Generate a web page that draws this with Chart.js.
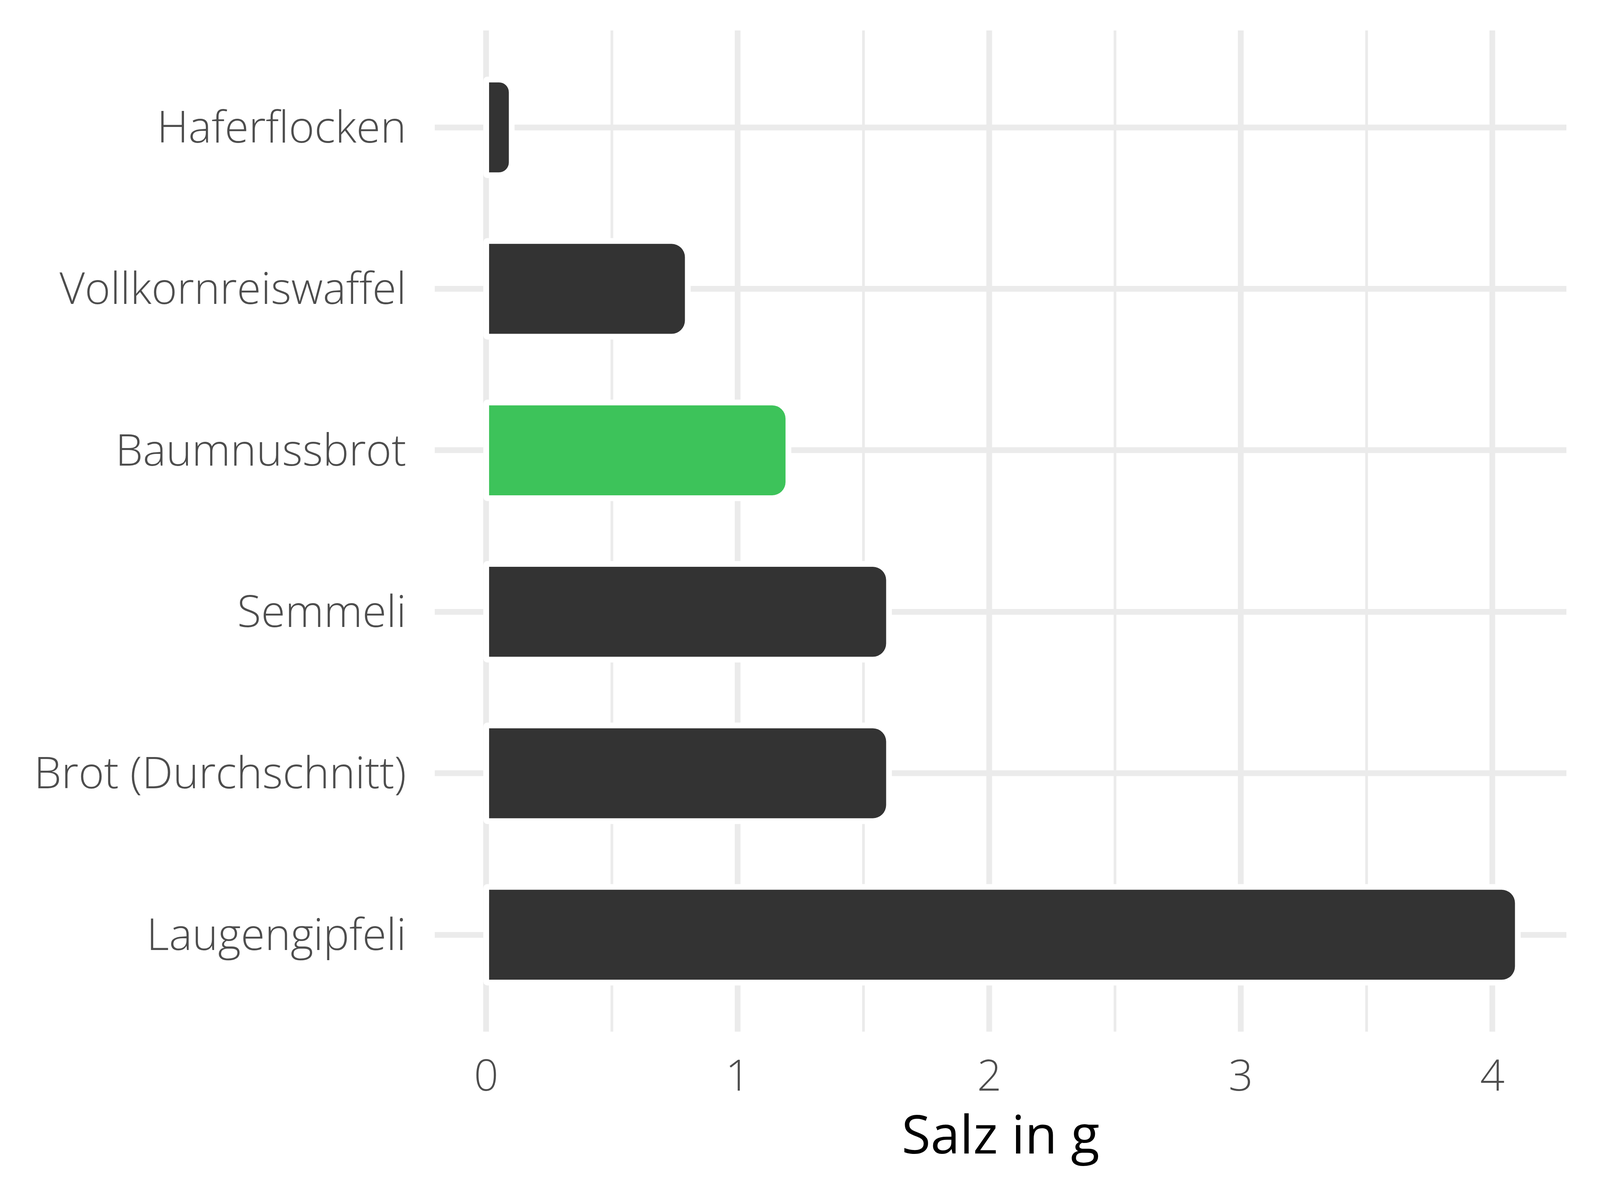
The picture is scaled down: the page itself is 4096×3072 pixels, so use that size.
<!DOCTYPE html>
<html>
<head>
<meta charset="utf-8">
<script src="https://cdn.jsdelivr.net/npm/chart.js@4.4.1/dist/chart.umd.min.js"></script>
<style>
  html, body { margin: 0; padding: 0; background: #ffffff; }
  canvas { display: block; }
</style>
</head>
<body>
<canvas id="myChart" width="4096" height="3072"></canvas>
<script>
var foods = ['Haferflocken', 'Vollkornreiswaffel', 'Baumnussbrot', 'Semmeli', 'Brot (Durchschnitt)', 'Laugengipfeli']
var salz = [0.09, 0.79, 1.19, 1.59, 1.59, 4.09]
var barColors = ['#333333', '#333333', '#3DC35A', '#333333', '#333333', '#333333']
var xTicks = [0, 0.5, 1, 1.5, 2, 2.5, 3, 3.5, 4]
var xTitle = 'Salz in g'

var points = foods.map(function (name, i) { return { x: salz[i], y: i } })

var gridColor = '#EBEBEB'
var majorWidth = 14.7
var minorWidth = 6.9

const config = {
  type: 'bar',
  data: {
    datasets: [{
      label: 'Salz',
      data: points,
      backgroundColor: barColors,
      borderWidth: 0,
      borderRadius: 34,
      borderSkipped: 'start',
      inflateAmount: 0,
      order: 0
    }, {
      // white halo behind each bar, like the reference
      label: 'halo',
      data: points,
      backgroundColor: '#ffffff',
      borderWidth: 0,
      borderRadius: { topLeft: 10, bottomLeft: 10, topRight: 40, bottomRight: 40 },
      borderSkipped: false,
      inflateAmount: 14.7,
      order: 1
    }]
  },
  options: {
    indexAxis: 'y',
    responsive: false,
    animation: false,
    grouped: false,
    categoryPercentage: 1,
    barPercentage: 0.557,
    layout: { padding: { top: 78, right: 86, left: 0, bottom: 0 } },
    plugins: { legend: { display: false }, tooltip: { enabled: false } },
    scales: {
      x: {
        type: 'linear',
        min: -0.2045,
        max: 4.2945,
        afterBuildTicks: function (scale) {
          scale.ticks = xTicks.map(function (v) { return { value: v } })
        },
        afterFit: function (scale) {
          scale.height = 431
          scale.paddingLeft = 0
          scale.paddingRight = 0
        },
        border: { display: false },
        grid: {
          color: gridColor,
          drawTicks: false,
          lineWidth: function (ctx) {
            return ctx.tick && ctx.tick.value % 1 === 0 ? majorWidth : minorWidth
          }
        },
        ticks: {
          autoSkip: false,
          maxRotation: 0,
          padding: 54,
          color: '#4D4D4D',
          font: { family: 'Open Sans', size: 110, weight: 300 },
          callback: function (v) { return v % 1 === 0 ? String(v) : '' }
        },
        title: {
          display: true,
          text: xTitle,
          color: '#000000',
          padding: { top: 0, bottom: 76 },
          font: { family: 'Open Sans', size: 135, weight: 400 }
        }
      },
      y: {
        type: 'linear',
        reverse: true,
        offset: false,
        min: -0.6,
        max: 5.6,
        afterBuildTicks: function (scale) {
          scale.ticks = foods.map(function (f, i) { return { value: i } })
        },
        afterFit: function (scale) {
          scale.width = 1113
          scale.paddingTop = 0
          scale.paddingBottom = 0
        },
        border: { display: false },
        grid: { color: gridColor, drawTicks: false, offset: false, lineWidth: majorWidth },
        ticks: {
          autoSkip: false,
          padding: 73,
          labelOffset: 7,
          color: '#4D4D4D',
          font: { family: 'Open Sans', size: 112, weight: 300 },
          callback: function (v) { return foods[v] }
        }
      }
    }
  }
};

var myChart = new Chart(document.getElementById('myChart'), config);
</script>
</body>
</html>
